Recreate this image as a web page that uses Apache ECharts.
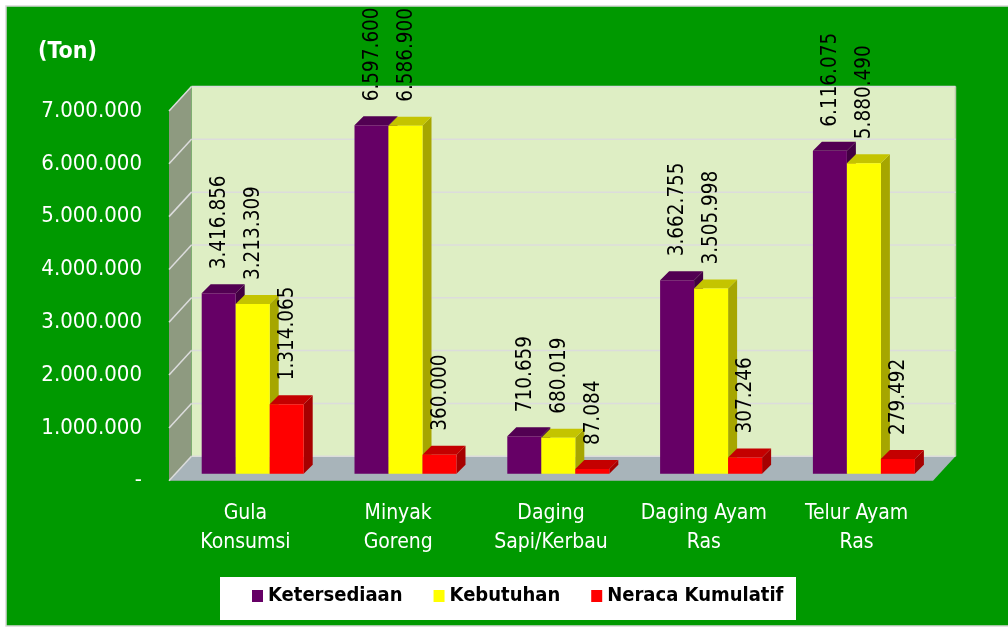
<!DOCTYPE html>
<html>
<head>
<meta charset="utf-8">
<style>
  html, body { margin: 0; padding: 0; background: #fff; }
  #chart { width: 1008px; height: 630px; }
</style>
<script src="https://cdn.jsdelivr.net/npm/echarts@6/dist/echarts.min.js"></script>
</head>
<body>
<div id="chart"></div>
<script>
const categories = ['Gula\nKonsumsi', 'Minyak\nGoreng', 'Daging\nSapi/Kerbau', 'Daging Ayam\nRas', 'Telur Ayam\nRas']
const ketersediaan = [3416856, 6597600, 710659, 3662755, 6116075]
const kebutuhan = [3213309, 6586900, 680019, 3505998, 5880490]
const neraca = [1314065, 360000, 87084, 307246, 279492]
const yTicks = [0, 1000000, 2000000, 3000000, 4000000, 5000000, 6000000, 7000000]

const fontName = '"DejaVu Sans Condensed", "DejaVu Sans", sans-serif'
// depth of the box and of the bars, px
const wallDx = 22.5, wallDy = 24.5
const barShiftX = 7.3, barShiftY = 7
const barDepth = 9
const barPart = 34 / 152.8

function fmt (v) {
  if (!v) return '-'
  return String(v).replace(/\B(?=(\d{3})+$)/g, '.')
}

function poly (points, fill, z2) {
  return { type: 'polygon', z2: z2 || 0, shape: { points: points }, style: { fill: fill } }
}

function wallSeries () {
  return {
    type: 'custom',
    silent: true,
    z: 1,
    data: [[0]],
    renderItem (params, api) {
      const c = params.coordSys
      const l = c.x, r = c.x + c.width, t = c.y, b = c.y + c.height
      const dx = wallDx, dy = wallDy
      return {
        type: 'group',
        children: [
          poly([[l + dx, t - dy], [r + dx, t - dy], [r + dx, b - dy], [l + dx, b - dy]], '#DEEEC4'),
          poly([[l, t], [l + dx, t - dy], [l + dx, b - dy], [l, b]], '#8E9A80'),
          poly([[l, b], [l + dx, b - dy], [r + dx, b - dy], [r, b]], '#A8B4BA'),
          { type: 'line', shape: { x1: r + dx, y1: t - dy, x2: r + dx, y2: b - dy }, style: { stroke: '#B9C7A8', lineWidth: 1.5 } }
        ]
      }
    }
  }
}

function gridSeries () {
  return {
    type: 'custom',
    silent: true,
    z: 2,
    data: yTicks.map(v => [v]),
    encode: { y: 0 },
    renderItem (params, api) {
      const c = params.coordSys
      const y = api.coord([0, api.value(0)])[1]
      const stroke = '#DCDCDC'
      return {
        type: 'group',
        children: [
          { type: 'line', shape: { x1: c.x, y1: y, x2: c.x + wallDx, y2: y - wallDy }, style: { stroke: stroke, lineWidth: 1.5 } },
          { type: 'line', shape: { x1: c.x + wallDx, y1: y - wallDy, x2: c.x + c.width + wallDx, y2: y - wallDy }, style: { stroke: stroke, lineWidth: 1.5 } }
        ]
      }
    }
  }
}

function barSeries (name, values, index, front, top, side) {
  return {
    name: name,
    type: 'custom',
    z: 3,
    itemStyle: { color: front },
    data: values.map((v, i) => [i, v]),
    encode: { x: 0, y: 1 },
    renderItem (params, api) {
      const pt = api.coord([api.value(0), api.value(1)])
      const base = api.coord([api.value(0), 0])
      const band = api.size([1, 0])[0]
      const w = band * barPart
      const x0 = pt[0] - w * 1.5 + barShiftX + w * index
      const x1 = x0 + w
      const y0 = pt[1] - barShiftY
      const y1 = base[1] - barShiftY
      const d = barDepth
      return {
        type: 'group',
        children: [
          poly([[x1, y0], [x1 + d, y0 - d], [x1 + d, y1 - d], [x1, y1]], side),
          poly([[x0, y0], [x0 + d, y0 - d], [x1 + d, y0 - d], [x1, y0]], top),
          poly([[x0, y0], [x1, y0], [x1, y1], [x0, y1]], front),
          {
            type: 'text',
            z2: 10,
            x: x0 + w / 2 + 1,
            y: y0 - 24,
            rotation: Math.PI / 2,
            style: {
              text: fmt(api.value(1)),
              fill: '#000',
              font: '20.5px ' + fontName,
              align: 'left',
              verticalAlign: 'middle'
            }
          }
        ]
      }
    }
  }
}

const chart = echarts.init(document.getElementById('chart'))
chart.setOption({
  animation: false,
  backgroundColor: '#fff',
  graphic: [
    { type: 'rect', z: -1, shape: { x: 6, y: 6, width: 1010, height: 620 }, style: { fill: '#009900', stroke: '#D8D8D8', lineWidth: 1.5 } },
    { type: 'rect', z: 0, shape: { x: 220, y: 577, width: 576, height: 43 }, style: { fill: '#fff' } }
  ],
  title: {
    text: '(Ton)',
    left: 38,
    top: 41,
    padding: 0,
    textStyle: { color: '#fff', fontFamily: fontName, fontWeight: 'bold', fontSize: 23 }
  },
  legend: {
    left: 252,
    top: 586,
    padding: 0,
    itemWidth: 11,
    itemHeight: 12,
    itemGap: 31,
    icon: 'rect',
    selectedMode: false,
    data: ['Ketersediaan', 'Kebutuhan', 'Neraca Kumulatif'],
    textStyle: { color: '#000', fontFamily: fontName, fontWeight: 'bold', fontSize: 20, padding: [0, 0, 0, 0] }
  },
  grid: { left: 169, right: 75, top: 111, bottom: 149.3, containLabel: false },
  xAxis: {
    type: 'category',
    data: categories,
    axisLine: { show: false },
    axisTick: { show: false },
    axisLabel: { color: '#fff', fontFamily: fontName, fontSize: 21, lineHeight: 29, margin: 18, interval: 0 }
  },
  yAxis: {
    type: 'value',
    min: 0,
    max: 7000000,
    interval: 1000000,
    axisLine: { show: false },
    axisTick: { show: false },
    splitLine: { show: false },
    axisLabel: { color: '#fff', fontFamily: fontName, fontSize: 22, margin: 27, formatter: fmt }
  },
  series: [
    wallSeries(),
    gridSeries(),
    barSeries('Ketersediaan', ketersediaan, 0, '#660066', '#520052', '#420042'),
    barSeries('Kebutuhan', kebutuhan, 1, '#FFFF00', '#C4C400', '#A6A600'),
    barSeries('Neraca Kumulatif', neraca, 2, '#FF0000', '#C40000', '#A60000')
  ]
})
</script>
</body>
</html>
